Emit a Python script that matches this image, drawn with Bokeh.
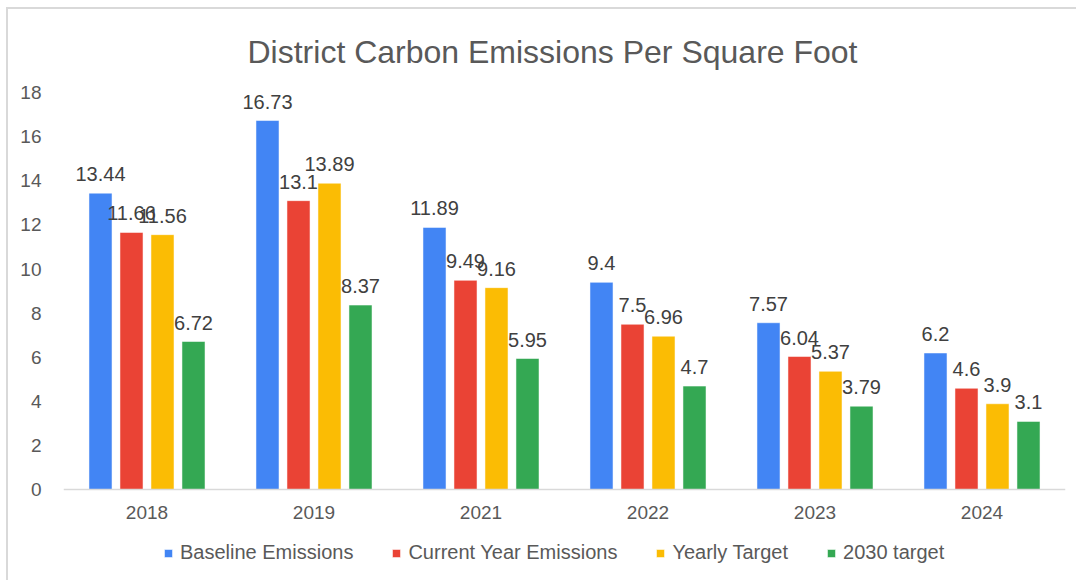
from bokeh.plotting import figure
from bokeh.models import ColumnDataSource, FactorRange, Legend, LegendItem, LabelSet, FixedTicker, Spacer
from bokeh.layouts import column, row
from bokeh.core.properties import value
from bokeh.transform import dodge
from bokeh.embed import file_html
from bokeh.resources import INLINE

years = ["2018", "2019", "2021", "2022", "2023", "2024"]
baseline = [13.44, 16.73, 11.89, 9.4, 7.57, 6.2]
current = [11.66, 13.1, 9.49, 7.5, 6.04, 4.6]
yearly = [11.56, 13.89, 9.16, 6.96, 5.37, 3.9]
target2030 = [6.72, 8.37, 5.95, 4.7, 3.79, 3.1]

series_names = ["Baseline Emissions", "Current Year Emissions", "Yearly Target", "2030 target"]
series_vals = [baseline, current, yearly, target2030]
colors = ["#4285F4", "#EA4335", "#FBBC04", "#34A853"]
label_strs = [[("%g" % v) for v in s] for s in series_vals]

FONT = "Liberation Sans"

p = figure(x_range=FactorRange(*years, range_padding=0), y_range=(-3.88, 18),
           width=1070, height=573, output_backend="svg", toolbar_location=None,
           min_border_left=55, min_border_right=13, min_border_top=81, min_border_bottom=7)
p.styles = {"border-left": "2px solid #d9d9d9", "border-top": "2px solid #d9d9d9"}
p.outline_line_color = None
p.xgrid.grid_line_color = None
p.ygrid.grid_line_color = None
p.background_fill_color = "white"
p.border_fill_color = "white"

p.title.text = "District Carbon Emissions Per Square Foot"
p.title.align = "left"
p.title.offset = 184
p.title.text_font = FONT
p.title.text_font_size = "32px"
p.title.text_font_style = "normal"
p.title.text_color = "#595959"
p.title.standoff = 45

step = 0.1856
bw = 0.138
offsets = [-1.5 * step, -0.5 * step, 0.5 * step, 1.5 * step]
items = []
for name, vals, col, off, labs in zip(series_names, series_vals, colors, offsets, label_strs):
    src = ColumnDataSource(dict(year=years, val=vals, lab=labs))
    r = p.vbar(x=dodge("year", off, range=p.x_range), top="val", bottom=0, width=bw, source=src,
               fill_color=col, line_color="white", line_alpha=0.5, line_width=1)
    items.append(LegendItem(label=name, renderers=[r]))
    ls = LabelSet(x=dodge("year", off, range=p.x_range), y="val", text="lab", source=src,
                  text_align="center", text_baseline="bottom", y_offset=12,
                  text_font=value(FONT), text_font_size="20px", text_color="#404040")
    p.add_layout(ls)

p.xaxis.fixed_location = 0
p.xaxis.axis_line_color = "#d9d9d9"
p.xaxis.axis_line_width = 1.5
p.xaxis.major_tick_line_color = None
p.xaxis.minor_tick_line_color = None
p.xaxis.major_label_text_font = FONT
p.xaxis.major_label_text_font_size = "19px"
p.xaxis.major_label_text_color = "#595959"
p.xaxis.major_label_standoff = 10

p.yaxis.ticker = FixedTicker(ticks=list(range(0, 19, 2)))
p.yaxis.axis_line_color = None
p.yaxis.major_tick_line_color = None
p.yaxis.minor_tick_line_color = None
p.yaxis.major_label_text_font = FONT
p.yaxis.major_label_text_font_size = "19px"
p.yaxis.major_label_text_color = "#595959"
p.yaxis.major_label_standoff = 16

legend = Legend(items=items, orientation="horizontal", location=(100, 11),
                glyph_width=10, glyph_height=10, label_standoff=7, spacing=38,
                label_text_font=FONT, label_text_font_size="20px", label_text_color="#595959",
                background_fill_alpha=0, border_line_color=None, padding=0, margin=0)
p.add_layout(legend, "center")

layout = column(Spacer(height=7), row(Spacer(width=6), p))
open("out.html", "w").write(file_html(layout, INLINE))
